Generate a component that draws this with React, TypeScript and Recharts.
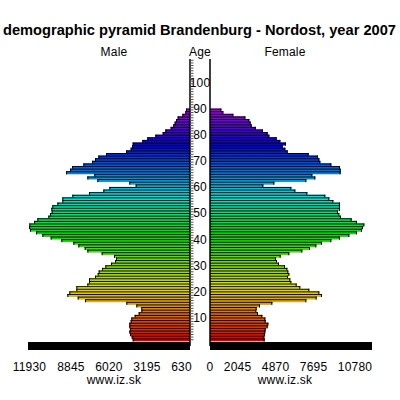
import React from "react";
import { BarChart, Bar, XAxis, YAxis, Cell } from "recharts";

const maleValues = [4260,4335,4459,4508,4459,4508,4508,4409,4360,4112,3815,3616,3616,3988,4731,7803,8347,9115,8967,8447,8447,7629,7505,7505,7059,6861,6787,6539,6292,5870,5573,5499,5648,6564,7629,7827,8298,8670,9561,10354,10973,11444,11890,11964,11939,11592,11345,10527,10403,10280,10304,10230,9858,9487,9487,8744,7505,6440,5994,4038,4508,6886,7629,7109,9214,8917,8769,7926,7282,7059,6812,6242,4756,4409,4310,4260,3542,3171,2576,2031,1833,1437,1239,1139,1040,916,570,347,297];
const femaleValues = [4062,4038,4087,4112,4137,4285,4335,4137,4112,3889,3567,3443,3468,3716,4632,7159,7926,8323,8125,7381,6713,6440,6044,5970,5796,5895,5821,5747,5573,5127,4979,4904,5251,5895,6861,7431,7902,8323,9016,9660,10354,10924,11295,11369,11469,10924,10527,9735,9611,9512,9660,9660,9660,9165,8868,8570,7233,6341,6044,3963,4781,7159,7827,7604,9710,9710,9660,9016,8199,8125,8025,7332,5771,5598,5400,5648,5226,4954,4409,4285,3938,3418,3096,3022,2923,2626,1734,991,842];
const maleTicks = [11930, 8845, 6020, 3195, 630];
const femaleTicks = [0, 2045, 4870, 7695, 10780];
const hueAges = [0, 40, 55, 70, 88];
const hueValues = [0, 120, 180, 225, 285];
const ROWS = 108;
const MAX = 12040;
const FONT = '"Liberation Sans", Arial, sans-serif';

const rows = Array.from({ length: ROWS }, (_, i) => {
  const age = ROWS - 1 - i;
  return { age, male: maleValues[age] ?? 0, female: femaleValues[age] ?? 0 };
});
const colorOf = (age: number) => {
  let k = 0;
  while (k < hueAges.length - 2 && age > hueAges[k + 1]) k++;
  const t = (age - hueAges[k]) / (hueAges[k + 1] - hueAges[k]);
  const hue = hueValues[k] + t * (hueValues[k + 1] - hueValues[k]);
  return `hsl(${hue}, 100%, 44%)`;
};

const BarShape = (side: "left" | "right") => (p: any) => {
  const w = Math.abs(p.width);
  if (!w) return <g />;
  const x = p.width < 0 ? p.x + p.width : p.x;
  const endX = side === "left" ? x : x + w - 1;
  return (
    <g>
      <rect x={x} y={p.y} width={w} height={p.height} fill={p.fill} />
      <rect x={x} y={p.y} width={w} height={0.95} fill="#000" />
      <rect x={endX} y={p.y} width={1} height={p.height} fill="#000" />
    </g>
  );
};

const AgeTick = (p: any) => {
  const age = p.payload.value;
  if (age === 0 || age % 10 !== 0) return <g />;
  return (
    <text x={200} y={p.y + 4.3} textAnchor="middle" dominantBaseline="central" fontSize={12} letterSpacing={0.2} fontFamily={FONT} fill="#000">
      {age}
    </text>
  );
};

const tickStyle = { fontSize: 12, fontFamily: FONT, fill: "#000", letterSpacing: 0.2 };
const labels = [
  { t: "Male", x: 114, y: 52 },
  { t: "Age", x: 200, y: 52 },
  { t: "Female", x: 285, y: 52 },
  { t: "www.iz.sk", x: 114, y: 380 },
  { t: "www.iz.sk", x: 285, y: 380 },
];

export default function App() {
  const margin = { top: 59, bottom: 0 };
  return (
    <div style={{ position: "absolute", left: 0, top: 0, width: 400, height: 400, background: "#fff", overflow: "hidden" }}>
      <div style={{ position: "absolute", left: 0, top: 0 }}>
        <BarChart width={210} height={400} data={rows} layout="vertical" barCategoryGap={0} margin={{ ...margin, left: 28, right: 0 }}>
          <XAxis type="number" reversed domain={[0, MAX]} ticks={maleTicks} interval={0} height={54} axisLine={{ stroke: "#000", strokeWidth: 8 }} tickLine={false} tickMargin={10} tick={tickStyle} allowDataOverflow />
          <YAxis type="category" dataKey="age" orientation="right" width={20} interval={0} padding={{ top: 0, bottom: 5 }} axisLine={{ stroke: "#000", strokeWidth: 1.5 }} tickLine={{ stroke: "#555", strokeWidth: 1 }} tickSize={3.5} tick={AgeTick} />
          <Bar dataKey="male" isAnimationActive={false} shape={BarShape("left")}>
            {rows.map((r) => <Cell key={r.age} fill={colorOf(r.age)} />)}
          </Bar>
        </BarChart>
      </div>
      <div style={{ position: "absolute", left: 190, top: 0 }}>
        <BarChart width={210} height={400} data={rows} layout="vertical" barCategoryGap={0} margin={{ ...margin, left: 0, right: 28 }}>
          <XAxis type="number" domain={[0, MAX]} ticks={femaleTicks} interval={0} height={54} axisLine={{ stroke: "#000", strokeWidth: 8 }} tickLine={false} tickMargin={10} tick={tickStyle} allowDataOverflow />
          <YAxis type="category" dataKey="age" orientation="left" width={20} interval={0} padding={{ top: 0, bottom: 5 }} axisLine={{ stroke: "#000", strokeWidth: 1.5 }} tickLine={{ stroke: "#555", strokeWidth: 1 }} tickSize={3.5} tick={false} />
          <Bar dataKey="female" isAnimationActive={false} shape={BarShape("right")}>
            {rows.map((r) => <Cell key={r.age} fill={colorOf(r.age)} />)}
          </Bar>
        </BarChart>
      </div>
      <svg width={400} height={400} style={{ position: "absolute", left: 0, top: 0, pointerEvents: "none" }}>
        <text x={199.5} y={30} textAnchor="middle" dominantBaseline="central" fontSize={14.65} fontWeight="bold" fontFamily={FONT} fill="#000">
          demographic pyramid Brandenburg - Nordost, year 2007
        </text>
        {labels.map((l) => (
          <text key={l.t + l.x} x={l.x} y={l.y} textAnchor="middle" dominantBaseline="central" fontSize={12} letterSpacing={0.2} fontFamily={FONT} fill="#000">
            {l.t}
          </text>
        ))}
      </svg>
    </div>
  );
}
